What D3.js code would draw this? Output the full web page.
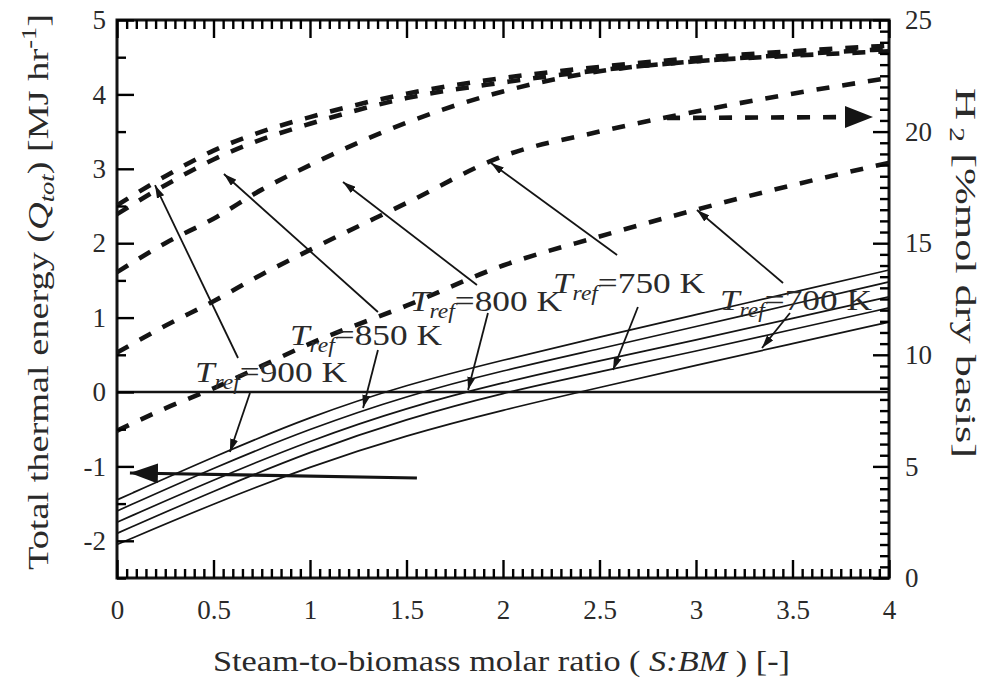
<!DOCTYPE html>
<html>
<head>
<meta charset="utf-8">
<script src="https://cdn.jsdelivr.net/npm/d3@7"></script>
<style>
  html, body { margin: 0; padding: 0; background: #fff; }
  svg { display: block; font-family: "Liberation Serif", "DejaVu Serif", serif; }
</style>
</head>
<body>
<svg id="chart" width="999" height="684" xmlns="http://www.w3.org/2000/svg"></svg>
<script>
// ---------------- data ----------------
const sbmQ = [0, 0.5, 1, 1.5, 2, 2.5, 3, 3.5, 4];
const tempsK = [900, 850, 800, 750, 700];
const qTot900 = [-1.45, -0.87, -0.33, 0.10, 0.43, 0.74, 1.04, 1.34, 1.64];
const qTot850 = [-1.60, -1.02, -0.49, -0.05, 0.29, 0.58, 0.88, 1.18, 1.48];
const qTot800 = [-1.75, -1.18, -0.65, -0.21, 0.13, 0.42, 0.70, 0.99, 1.28];
const qTot750 = [-1.90, -1.33, -0.80, -0.36, -0.01, 0.27, 0.55, 0.84, 1.13];
const qTot700 = [-2.05, -1.50, -1.00, -0.58, -0.24, 0.06, 0.36, 0.65, 0.94];

const sbmH2 = [0, 0.25, 0.5, 0.75, 1, 1.5, 2, 2.5, 3, 3.5, 4];
const h2_900 = [16.7, 18.0, 19.15, 20.0, 20.65, 21.7, 22.4, 22.9, 23.3, 23.6, 23.85];
const h2_850 = [16.3, 17.6, 18.75, 19.65, 20.35, 21.5, 22.2, 22.75, 23.15, 23.45, 23.7];
const h2_800 = [13.7, 15.0, 16.1, 17.4, 18.5, 20.4, 21.8, 22.7, 23.15, 23.4, 23.6];
const h2_750 = [10.1, 11.3, 12.4, 13.6, 14.7, 16.8, 18.9, 20.0, 20.9, 21.7, 22.4];
const h2_700 = [6.6, 7.6, 8.5, 9.5, 10.5, 12.2, 14.0, 15.3, 16.5, 17.6, 18.6];

const xTicks = [0, 0.5, 1, 1.5, 2, 2.5, 3, 3.5, 4];
const yLeftTicks = [-2, -1, 0, 1, 2, 3, 4, 5];
const yRightTicks = [0, 5, 10, 15, 20, 25];
const zeroLevel = 0;

// annotations in data units (x: S:BM, y: left axis Q)
const upArrows = [
  {from: [0.627, 0.457], to: [0.197, 2.78]},
  {from: [1.352, 1.075], to: [0.554, 2.93]},
  {from: [1.865, 1.438], to: [1.171, 2.823]},
  {from: [2.591, 1.841], to: [1.938, 3.078]},
  {from: [3.451, 1.465], to: [3.005, 2.446]}
];
const downArrows = [
  {from: [0.689, -0.013], to: [0.585, -0.806]},
  {from: [1.352, 0.565], to: [1.275, -0.215]},
  {from: [1.922, 1.062], to: [1.819, 0.027]},
  {from: [2.699, 1.142], to: [2.570, 0.296]},
  {from: [3.487, 1.062], to: [3.342, 0.591]}
];
const labelPos = [[0.404, 0.134], [0.896, 0.632], [1.518, 1.089], [2.259, 1.331], [3.124, 1.102]];
const leftAxisArrow = {from: [1.554, -1.156], to: [0.067, -1.089]};
const rightAxisArrow = {from: [2.85, 20.61], to: [3.917, 20.65]};

// ---------------- layout ----------------
const svg = d3.select("#chart");
const L = 117, R = 889, T = 20, B = 578;
const x = d3.scaleLinear().domain([0, 4]).range([L, R]);
const yL = d3.scaleLinear().domain([-2.5, 5]).range([B, T]);
const yR = d3.scaleLinear().domain([0, 25]).range([B, T]);
const INK = "#141414", TXT = "#2a2a2a";

svg.append("rect").attr("x", 0).attr("y", 0).attr("width", 999).attr("height", 684).attr("fill", "#fff");

const defs = svg.append("defs");
function marker(id, w, h) {
  defs.append("marker").attr("id", id)
    .attr("markerUnits", "userSpaceOnUse")
    .attr("viewBox", `0 0 ${w} ${h}`)
    .attr("refX", w).attr("refY", h / 2)
    .attr("markerWidth", w).attr("markerHeight", h)
    .attr("orient", "auto")
    .append("path").attr("d", `M0,0L${w},${h / 2}L0,${h}Z`).attr("fill", INK);
}
marker("arrS", 13, 8);
marker("arrBig", 28, 20);

const tickFmt = d => String(d);
const xMinor = d3.range(0, 81).map(i => i / 20).filter(v => Math.abs(v * 2 - Math.round(v * 2)) > 1e-6);
const yLMinor = d3.range(-5, 11).map(i => i / 2).filter(v => !Number.isInteger(v));
const yRMinor = d3.range(0, 51).map(i => i / 2).filter(v => v % 5 !== 0);

function labelAxis(g) {
  g.select(".domain").remove();
  g.selectAll(".tick line").remove();
  g.selectAll("text").attr("fill", TXT).attr("font-size", 27)
    .attr("font-family", "Liberation Serif, serif");
}

svg.append("g").attr("transform", `translate(0,${B})`)
  .call(d3.axisBottom(x).tickValues(xTicks).tickFormat(tickFmt).tickSize(0).tickPadding(22))
  .call(labelAxis);
svg.append("g").attr("transform", `translate(${L},0)`)
  .call(d3.axisLeft(yL).tickValues(yLeftTicks).tickFormat(tickFmt).tickSize(0).tickPadding(11))
  .call(labelAxis);
svg.append("g").attr("transform", `translate(${R},0)`)
  .call(d3.axisRight(yR).tickValues(yRightTicks).tickFormat(tickFmt).tickSize(0).tickPadding(16))
  .call(labelAxis);

// frame
svg.append("rect").attr("x", L).attr("y", T).attr("width", R - L).attr("height", B - T)
  .attr("fill", "none").attr("stroke", INK).attr("stroke-width", 3);

// zero line
svg.append("line").attr("x1", x(0)).attr("x2", x(4)).attr("y1", yL(zeroLevel)).attr("y2", yL(zeroLevel))
  .attr("stroke", INK).attr("stroke-width", 2.6);

// solid Q lines
const qSeries = [qTot900, qTot850, qTot800, qTot750, qTot700];
const lineQ = d3.line().x(d => x(d[0])).y(d => yL(d[1])).curve(d3.curveBasis);
svg.append("g").selectAll("path").data(qSeries).join("path")
  .attr("d", s => lineQ(s.map((v, i) => [sbmQ[i], v])))
  .attr("fill", "none").attr("stroke", INK).attr("stroke-width", 1.7);

// dashed H2 lines
const hSeries = [h2_900, h2_850, h2_800, h2_750, h2_700];
const lineH = d3.line().x(d => x(d[0])).y(d => yR(d[1])).curve(d3.curveMonotoneX);
svg.append("g").selectAll("path").data(hSeries).join("path")
  .attr("d", s => lineH(s.map((v, i) => [sbmH2[i], v])))
  .attr("fill", "none").attr("stroke", INK).attr("stroke-width", 4.6)
  .attr("stroke-dasharray", "13,13");

// annotation arrows
const ann = svg.append("g");
[...upArrows, ...downArrows].forEach(a => {
  ann.append("line")
    .attr("x1", x(a.from[0])).attr("y1", yL(a.from[1]))
    .attr("x2", x(a.to[0])).attr("y2", yL(a.to[1]))
    .attr("stroke", INK).attr("stroke-width", 1.8).attr("marker-end", "url(#arrS)");
});
ann.append("line")
  .attr("x1", x(leftAxisArrow.from[0])).attr("y1", yL(leftAxisArrow.from[1]))
  .attr("x2", x(leftAxisArrow.to[0])).attr("y2", yL(leftAxisArrow.to[1]))
  .attr("stroke", INK).attr("stroke-width", 3.2).attr("marker-end", "url(#arrBig)");
{
  const tx = x(rightAxisArrow.to[0]), ty = yR(rightAxisArrow.to[1]);
  ann.append("line")
    .attr("x1", x(rightAxisArrow.from[0])).attr("y1", yR(rightAxisArrow.from[1]))
    .attr("x2", tx - 26).attr("y2", ty)
    .attr("stroke", INK).attr("stroke-width", 4.6).attr("stroke-dasharray", "13,13");
  ann.append("path")
    .attr("d", `M${tx - 28},${ty - 11}L${tx},${ty}L${tx - 28},${ty + 11}Z`)
    .attr("fill", INK);
}

// T_ref labels
tempsK.forEach((t, i) => {
  const txt = ann.append("text")
    .attr("x", x(labelPos[i][0])).attr("y", yL(labelPos[i][1]))
    .attr("font-size", 30).attr("fill", TXT)
    .attr("textLength", 152).attr("lengthAdjust", "spacingAndGlyphs");
  txt.append("tspan").attr("font-style", "italic").text("T");
  txt.append("tspan").attr("font-style", "italic").attr("font-size", 20).attr("dy", 7).text("ref");
  txt.append("tspan").attr("dy", -7).text("=" + t + " K");
});

// axis titles
const xt = svg.append("text").attr("x", 213).attr("y", 671)
  .attr("font-size", 30).attr("fill", TXT)
  .attr("textLength", 577).attr("lengthAdjust", "spacingAndGlyphs");
xt.append("tspan").text("Steam-to-biomass molar ratio (");
xt.append("tspan").attr("font-style", "italic").text(" S:BM ");
xt.append("tspan").text(") [-]");

const yt = svg.append("text").attr("transform", "translate(48,570) rotate(-90)")
  .attr("font-size", 29).attr("fill", TXT)
  .attr("textLength", 556).attr("lengthAdjust", "spacingAndGlyphs");
yt.append("tspan").text("Total thermal energy (");
yt.append("tspan").attr("font-style", "italic").text("Q");
yt.append("tspan").attr("font-style", "italic").attr("font-size", 20).attr("dy", 6).text("tot");
yt.append("tspan").attr("dy", -6).text(") [MJ hr");
yt.append("tspan").attr("font-size", 20).attr("dy", -12).text("-1");
yt.append("tspan").attr("dy", 12).text("]");

const yt2 = svg.append("text").attr("transform", "translate(956,88) rotate(90)")
  .attr("font-size", 30).attr("fill", TXT)
  .attr("textLength", 370).attr("lengthAdjust", "spacingAndGlyphs");
yt2.append("tspan").text("H");
yt2.append("tspan").attr("font-size", 20).attr("dy", 6).text(" 2");
yt2.append("tspan").attr("dy", -6).text(" [%mol dry basis]");

// inward tick marks, drawn last with d3 axes (ticks only)
function tickAxis(axisFn, scale, vals, size, transform) {
  const g = svg.append("g").attr("transform", transform)
    .call(axisFn(scale).tickValues(vals).tickFormat("").tickSizeInner(size).tickSizeOuter(0));
  g.select(".domain").remove();
  g.selectAll(".tick line").attr("stroke", "#000").attr("stroke-width", 2.4);
}
tickAxis(d3.axisBottom, x, xTicks, -18, `translate(0,${B})`);
tickAxis(d3.axisBottom, x, xMinor, -9, `translate(0,${B})`);
tickAxis(d3.axisTop, x, xTicks, -18, `translate(0,${T})`);
tickAxis(d3.axisTop, x, xMinor, -9, `translate(0,${T})`);
tickAxis(d3.axisLeft, yL, yLeftTicks, -17, `translate(${L},0)`);
tickAxis(d3.axisLeft, yL, yLMinor, -9, `translate(${L},0)`);
tickAxis(d3.axisRight, yR, yRightTicks, -16, `translate(${R},0)`);
tickAxis(d3.axisRight, yR, yRMinor, -9, `translate(${R},0)`);
</script>
</body>
</html>
